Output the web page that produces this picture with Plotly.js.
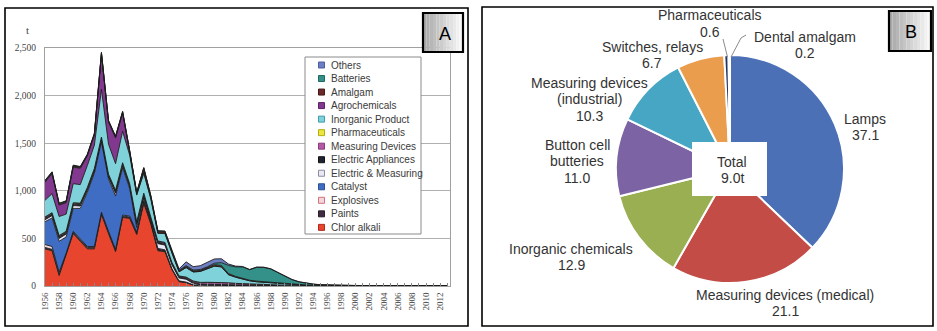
<!DOCTYPE html>
<html><head><meta charset="utf-8">
<script src="https://cdn.plot.ly/plotly-3.0.1.min.js"></script>
<style>html,body{margin:0;padding:0;background:#fff}#chart{width:937px;height:331px}</style>
</head><body><div id="chart"></div>
<script>
// ---------- DATA: panel A (t of mercury demand by use, stacked) ----------
const years = [1956,1957,1958,1959,1960,1961,1962,1963,1964,1965,1966,1967,1968,1969,1970,1971,
  1972,1973,1974,1975,1976,1977,
  1978,1979,1980,1981,1982,1983,1984,1985,1986,1987,1988,1989,1990,
  1991,1992,1993,1994,1995,1996,1997,1998,1999,2000,2001,2002,2003,2004,2005,2006,2007,2008,2009,2010,2011,2012,2013];

const chlorAlkali = [390,370,110,320,550,470,390,390,750,550,360,720,710,540,870,650,
  370,360,170,45,35,10,
  0,0,0,0,0,0,0,0,0,0,0,0,0,
  0,0,0,0,0,0,0,0,0,0,0,0,0,0,0,0,0,0,0,0,0,0,0];
const paints = [15,15,15,15,15,15,15,15,15,15,15,15,15,15,15,15,
  10,10,5,5,3,2,
  0,0,0,0,0,0,0,0,0,0,0,0,0,
  0,0,0,0,0,0,0,0,0,0,0,0,0,0,0,0,0,0,0,0,0,0,0];
const explosives = [30,30,20,10,10,10,10,10,10,10,10,10,10,10,10,5,
  5,5,3,2,2,1,
  0,0,0,0,0,0,0,0,0,0,0,0,0,
  0,0,0,0,0,0,0,0,0,0,0,0,0,0,0,0,0,0,0,0,0,0,0];
const catalyst = [240,300,325,170,240,320,570,770,740,550,560,500,290,50,30,15,
  10,5,3,2,1,0,
  0,0,0,0,0,0,0,0,0,0,0,0,0,
  0,0,0,0,0,0,0,0,0,0,0,0,0,0,0,0,0,0,0,0,0,0,0];
const elecMeasuring = [20,25,30,30,30,25,20,20,20,20,30,20,20,30,20,20,
  50,50,40,30,30,15,
  10,8,6,5,5,4,3,3,2,2,2,1,1,
  0,0,0,0,0,0,0,0,0,0,0,0,0,0,0,0,0,0,0,0,0,0,0];
const elecAppliances = [15,15,15,15,15,15,15,15,15,15,15,15,15,15,15,15,
  15,15,12,10,10,10,
  10,10,10,10,10,8,8,6,6,5,5,4,3,
  3,2,2,2,1,1,1,1,1,1,1,1,1,1,0.5,0.5,0.5,0.5,0.5,0.5,0.5,0.5,0.5];
const measuringDevices = [10,10,10,10,10,10,10,10,10,10,10,10,10,10,10,10,
  10,10,10,8,10,12,
  15,18,20,20,18,15,12,10,8,7,6,5,4,
  3,3,2,2,2,2,1,1,1,1,1,1,1,1,1,1,1,1,1,1,1,1,1];
const pharmaceuticals = [5,5,5,5,5,5,5,5,5,5,5,5,5,5,5,5,
  3,3,3,3,3,3,
  3,3,3,1,1,1,1,1,1,1,1,1,1,
  1,1,1,1,1,0,0,0,0,0,0,0,0,0,0,0,0,0,0,0,0,0,0];
const inorganic = [175,200,200,180,200,195,230,245,500,315,280,330,300,280,210,180,
  80,95,100,45,100,95,
  115,140,170,165,85,65,50,35,28,25,20,15,10,
  6,4,3,2,1,1,0.5,0.5,0.5,0.5,0,0,0,0,0,0,0,0,0,0,0,0,0];
const agrochemicals = [190,210,120,120,175,170,100,105,370,230,270,190,30,10,10,5,
  3,0,0,0,0,0,
  0,0,0,0,0,0,0,0,0,0,0,0,0,
  0,0,0,0,0,0,0,0,0,0,0,0,0,0,0,0,0,0,0,0,0,0,0];
const amalgam = [10,10,10,10,10,10,10,10,10,10,10,10,10,10,40,20,
  15,15,15,10,10,10,
  10,12,15,15,12,8,6,6,6,5,5,5,4,
  4,3,3,2,2,2,1.5,1.5,1,1,1,1,1,1,1,1,1,1,1,1,1,1,1];
const batteries = [5,5,5,5,5,5,5,5,5,5,5,5,5,5,5,5,
  5,5,5,5,10,10,
  10,10,15,30,85,100,120,110,145,150,140,110,80,
  50,30,18,10,5,3,2,1,1,1,0.5,0.5,0.5,0.5,0.5,0.5,0.5,0.5,0.5,0.5,0.5,0.5,0.5];
const others = [5,5,5,5,5,5,5,5,5,5,5,5,5,5,5,5,
  5,5,10,15,40,35,
  40,45,45,40,15,8,5,3,3,3,2,2,2,
  2,2,2,2,2,2,2,1.5,1.5,1.5,1,1,1,1,1,1,1,1,1,1,1,1,1];

// bottom -> top stacking order
const seriesNames = ["Chlor alkali","Paints","Explosives","Catalyst","Electric & Measuring",
  "Electric Appliances","Measuring Devices","Pharmaceuticals","Inorganic Product",
  "Agrochemicals","Amalgam","Batteries","Others"];
const seriesValues = [chlorAlkali,paints,explosives,catalyst,elecMeasuring,elecAppliances,
  measuringDevices,pharmaceuticals,inorganic,agrochemicals,amalgam,batteries,others];
const yTicks = [0,500,1000,1500,2000,2500];

// ---------- DATA: panel B (share %, total 9.0 t) ----------
const pieLabels = ["Lamps","Measuring devices (medical)","Inorganic chemicals","Button cell butteries",
  "Measuring devices (industrial)","Switches, relays","Pharmaceuticals","Dental amalgam"];
const pieValues = [37.1,21.1,12.9,11.0,10.3,6.7,0.6,0.2];
const pieLabelLines = [["Lamps"],["Measuring devices (medical)"],["Inorganic chemicals"],["Button cell","butteries"],
  ["Measuring devices","(industrial)"],["Switches, relays"],["Pharmaceuticals"],["Dental amalgam"]];
const totalText = ["Total","9.0t"];

// ---------- STYLE ----------
const W = 937, H = 331;
const X = px => px / W, Y = py => 1 - py / H;
const areaStyle = [
  {fill:'#e8452f', edge:'#b3281c'},
  {fill:'#3f2d3f', edge:'#2a1f2a'},
  {fill:'#f2d6dc', edge:'#d6707e'},
  {fill:'#3f6dc4', edge:'#2d4f94'},
  {fill:'#ebe8f6', edge:'#8c8c9c'},
  {fill:'#1f2430', edge:'#111111'},
  {fill:'#b45aa2', edge:'#8c3c7c'},
  {fill:'#ece640', edge:'#b5ad10'},
  {fill:'#80d2da', edge:'#3f9eae'},
  {fill:'#82388f', edge:'#5c2266'},
  {fill:'#6b2828', edge:'#4a1818'},
  {fill:'#33918a', edge:'#1f6a5e'},
  {fill:'#6d7fc2', edge:'#4c5ea0'}
];
const pieColors = ['#4b70b6','#c34c47','#9aae52','#7c63a3','#46a6c3','#eb9d4e','#1f3568','#cfcfcf'];
const serif = 'Liberation Serif, DejaVu Serif, serif';
const sans = 'Liberation Sans, Arial, sans-serif';
const PIE_FONT = 14, PIE_STEP = 16.5;

const traces = seriesNames.map((name, i) => ({
  type: 'scatter', mode: 'lines', x: years, y: seriesValues[i], name: name,
  stackgroup: 'A', fillcolor: areaStyle[i].fill,
  line: {color: '#1c1c1c', width: 0.9, shape: 'linear'},
  showlegend: false, hoverinfo: 'skip'
}));
traces.push({
  type: 'pie', labels: pieLabels, values: pieValues, sort: false, direction: 'clockwise', rotation: 0,
  marker: {colors: pieColors, line: {color: '#ffffff', width: 2}},
  textinfo: 'none', showlegend: false, hoverinfo: 'skip',
  domain: {x: [X(616), X(844)], y: [Y(283), Y(55)]}
});

const shapes = [], annotations = [];
// panel frames
shapes.push({type:'rect', xref:'paper', yref:'paper', x0:X(5), x1:X(468), y0:Y(326), y1:Y(8), line:{color:'#000', width:1.6}, layer:'above'});
shapes.push({type:'rect', xref:'paper', yref:'paper', x0:X(482), x1:X(933), y0:Y(326), y1:Y(7), line:{color:'#000', width:1.6}, layer:'above'});
// gradient letter boxes
function letterBox(x0, y0, x1, y1, letter, lx, ly) {
  const n = 12;
  for (let k = 0; k < n; k++) {
    const t = k / (n - 1);
    const g = Math.round(168 + t * 80);
    shapes.push({type:'rect', xref:'paper', yref:'paper', x0:X(x0 + (x1 - x0) * k / n), x1:X(x0 + (x1 - x0) * (k + 1) / n),
      y0:Y(y1), y1:Y(y0), fillcolor:`rgb(${g},${g},${g})`, line:{width:0}, layer:'above'});
  }
  shapes.push({type:'rect', xref:'paper', yref:'paper', x0:X(x0), x1:X(x1), y0:Y(y1), y1:Y(y0), line:{color:'#000', width:2.2}, layer:'above'});
  annotations.push({xref:'paper', yref:'paper', x:X(lx), y:Y(ly), text:letter, showarrow:false, xanchor:'center', yanchor:'middle',
    font:{family:sans, size:18, color:'#000'}});
}
letterBox(423, 13, 463, 52, 'A', 445, 34);
letterBox(889, 11, 931, 51, 'B', 911, 32);

// y unit label
annotations.push({xref:'paper', yref:'paper', x:X(27), y:Y(30), text:'t', showarrow:false, xanchor:'center', yanchor:'middle',
  font:{family:serif, size:11, color:'#444'}});

// custom legend for panel A (top item = last series)
shapes.push({type:'rect', xref:'paper', yref:'paper', x0:X(305), x1:X(421), y0:Y(234), y1:Y(57), fillcolor:'#fff', line:{color:'#8a8a8a', width:1}, layer:'above'});
for (let j = 0; j < seriesNames.length; j++) {
  const i = seriesNames.length - 1 - j;
  const cy = 65 + j * 13.53;
  shapes.push({type:'rect', xref:'paper', yref:'paper', x0:X(318.5), x1:X(324.5), y0:Y(cy + 3), y1:Y(cy - 3),
    fillcolor: areaStyle[i].fill, line:{color: areaStyle[i].edge, width:1}, layer:'above'});
  annotations.push({xref:'paper', yref:'paper', x:X(329), y:Y(cy), text:seriesNames[i], showarrow:false,
    xanchor:'left', yanchor:'middle', font:{family:sans, size:10, color:'#3a3a3a'}});
}

// pie labels: block centres (px) for each slice label
const labelCentre = [[865,126.8],[785,303.2],[571,257.1],[577,161.3],[589,99.2],[652,55],[710,23.5],[805,45]];
function addBlock(lines, cx, cy) {
  const n = lines.length;
  lines.forEach((ln, k) => {
    annotations.push({xref:'paper', yref:'paper', x:X(cx), y:Y(cy + (k - (n - 1) / 2) * PIE_STEP), text:ln, showarrow:false,
      xanchor:'center', yanchor:'middle', font:{family:sans, size:PIE_FONT, color:'#333'}});
  });
}
pieLabels.forEach((lab, i) => {
  addBlock(pieLabelLines[i].concat([pieValues[i].toFixed(1)]), labelCentre[i][0], labelCentre[i][1]);
});
// leader lines for thin slices
shapes.push({type:'path', xref:'paper', yref:'paper', path:`M${X(723)},${Y(39)} L${X(727.5)},${Y(57)}`, line:{color:'#8a8a8a', width:1}, layer:'above'});
shapes.push({type:'path', xref:'paper', yref:'paper', path:`M${X(746)},${Y(35)} L${X(741)},${Y(38)} L${X(731)},${Y(57)}`, line:{color:'#8a8a8a', width:1}, layer:'above'});
// total box
shapes.push({type:'rect', xref:'paper', yref:'paper', x0:X(692), x1:X(767), y0:Y(196), y1:Y(142), fillcolor:'#fff', line:{width:0}, layer:'above'});
addBlock(totalText, 732, 170.2);

const layout = {
  width: W, height: H, margin: {l:0, r:0, t:0, b:0}, paper_bgcolor:'#fff', plot_bgcolor:'#fff',
  showlegend: false,
  xaxis: {domain:[X(45), X(450)], range:[1956, 2013.4], tickmode:'linear', tick0:1956, dtick:2, tickangle:-90,
    ticks:'inside', ticklen:3, tickcolor:'#888', showgrid:false, zeroline:false,
    showline:true, mirror:true, linecolor:'#a0a0a0', linewidth:1,
    minor:{tick0:1956, dtick:1, ticks:'inside', ticklen:3, tickcolor:'#888', showgrid:false},
    tickfont:{family:serif, size:9, color:'#444'}, ticklabelstandoff:2},
  yaxis: {domain:[Y(286), Y(48)], range:[0, 2500], tickmode:'array', tickvals:yTicks, tickformat:',',
    showgrid:true, gridcolor:'#b0b0b0', gridwidth:1, zeroline:false, ticks:'',
    showline:true, mirror:true, linecolor:'#a0a0a0', linewidth:1,
    tickfont:{family:serif, size:9.5, color:'#444'}, ticklabelstandoff:6},
  shapes: shapes, annotations: annotations
};
Plotly.newPlot('chart', traces, layout, {staticPlot: true, displayModeBar: false});
</script></body></html>
